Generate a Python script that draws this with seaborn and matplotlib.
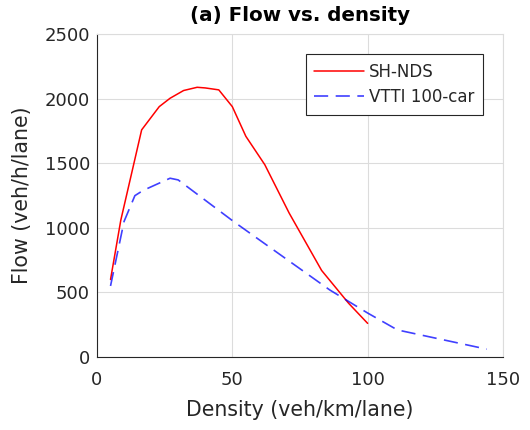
import numpy as np
import pandas as pd
import seaborn as sns
import matplotlib
matplotlib.use("Agg")
import matplotlib.pyplot as plt

# =========================== DATA ===========================
sh_density = [5, 8.8, 16.5, 23, 27, 32, 37, 40, 45, 50, 55, 62, 71, 83, 93, 100]
sh_flow = [600, 1060, 1760, 1940, 2005, 2065, 2090, 2085, 2070, 1940, 1710, 1490, 1115, 670, 415, 260]

vtti_density = [5, 10, 14, 17, 27, 30, 50.5, 86, 100, 111, 144]
vtti_flow = [550, 1050, 1250, 1290, 1385, 1372, 1049, 519, 340, 209, 60]

x_ticks = [0, 50, 100, 150]
y_ticks = [0, 500, 1000, 1500, 2000, 2500]

df_sh = pd.DataFrame({"density": sh_density, "flow": sh_flow})
df_vtti = pd.DataFrame({"density": vtti_density, "flow": vtti_flow})

# =========================== STYLE ===========================
sns.set_style("whitegrid")
plt.rcParams['font.family'] = ['DejaVu Sans']
txt = "#262626"

fig = plt.figure(figsize=(5.3, 4.3), dpi=100)
ax = fig.add_axes([0.183, 0.170, 0.766, 0.750])

sns.lineplot(data=df_sh, x="density", y="flow", ax=ax, color="#ff0000",
             linewidth=1.1, label="SH-NDS", sort=False, estimator=None)
sns.lineplot(data=df_vtti, x="density", y="flow", ax=ax, color="#0000ff",
             linewidth=1.2, label="VTTI 100-car", sort=False, estimator=None)
ax.lines[1].set_dashes((8.5, 4.5))
ax.lines[1].set_alpha(0.75)

ax.set_xlim(0, 150)
ax.set_ylim(0, 2500)
ax.set_xticks(x_ticks)
ax.set_yticks(y_ticks)
ax.tick_params(axis="both", labelsize=13, colors=txt, direction="in", length=4, width=0.6)
ax.tick_params(axis="x", pad=10)
ax.tick_params(axis="y", pad=5)
ax.grid(True, color="#dcdcdc", linewidth=0.8)

for side in ["left", "bottom"]:
    ax.spines[side].set_color(txt)
    ax.spines[side].set_linewidth(0.8)
for side in ["top", "right"]:
    ax.spines[side].set_color("#dcdcdc")
    ax.spines[side].set_linewidth(0.8)

ax.set_xlabel("Density (veh/km/lane)", fontsize=14.8, color=txt, labelpad=8)
ax.set_ylabel("Flow (veh/h/lane)", fontsize=14.8, color=txt, labelpad=9)
ax.set_title("(a) Flow vs. density", fontsize=14.3, fontweight="bold", color="black", pad=10)

leg = ax.legend(loc="upper right", bbox_to_anchor=(0.951, 0.938), borderaxespad=0, fontsize=12,
                frameon=True, fancybox=False, edgecolor="#262626", framealpha=1,
                handlelength=3.0, borderpad=0.5, labelspacing=0.45, handletextpad=0.3)
leg.get_frame().set_linewidth(0.8)

fig.savefig("out.png", dpi=100)
